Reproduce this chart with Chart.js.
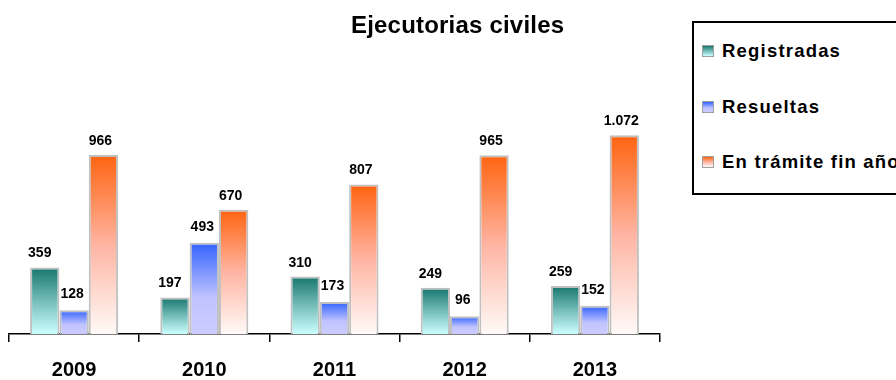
<!DOCTYPE html>
<html>
<head>
<meta charset="utf-8">
<script src="https://cdn.jsdelivr.net/npm/chart.js@4"></script>
<style>
  html, body { margin: 0; padding: 0; background: #fff; width: 896px; height: 380px; overflow: hidden; position: relative; }
  #c { position: absolute; left: 0; top: 0; }
  .title { position: absolute; left: 351px; top: 13px; font: bold 24px "Liberation Sans", Arial, sans-serif; line-height: 24px; letter-spacing: 0.2px; color: #000; white-space: nowrap; }
  .legend { position: absolute; left: 692px; top: 21px; width: 260px; height: 170px; border: 2px solid #000; background: #fff; }
  .li { position: absolute; left: 722px; font: bold 18.5px "Liberation Sans", Arial, sans-serif; line-height: 18px; letter-spacing: 1.2px; color: #000; white-space: nowrap; }
  .mk { position: absolute; left: 702px; width: 10px; height: 10px; border: 1px solid #a0a0a0; }
</style>
</head>
<body>
<canvas id="c" width="896" height="380"></canvas>
<div class="title" id="title"></div>
<div class="legend"></div>
<div id="leg"></div>
<script>
const chartTitle = "Ejecutorias civiles";
const categories = ["2009", "2010", "2011", "2012", "2013"];
const seriesNames = ["Registradas", "Resueltas", "En trámite fin año"];
const registradas = [359, 197, 310, 249, 259];
const resueltas = [128, 493, 173, 96, 152];
const enTramite = [966, 670, 807, 965, 1072];

const gradStops = [
  [[0, "#16766e"], [0.5, "#74bcb8"], [1, "#ccffff"]],
  [[0, "#3262ff"], [0.6, "#c0c3ff"], [1, "#ccccff"]],
  [[0, "#ff6410"], [0.5, "#ffb4a2"], [1, "#fffaf8"]]
];

document.getElementById('title').textContent = chartTitle;

// HTML legend
const legTop = [41.5, 97.5, 153];
const legEl = document.getElementById('leg');
seriesNames.forEach((n, i) => {
  const mk = document.createElement('div');
  mk.className = 'mk';
  mk.style.top = (legTop[i] + 3) + 'px';
  mk.style.background = 'linear-gradient(to bottom,' + gradStops[i].map(s => s[1] + ' ' + (s[0] * 100) + '%').join(',') + ')';
  legEl.appendChild(mk);
  const t = document.createElement('div');
  t.className = 'li';
  t.style.top = legTop[i] + 'px';
  t.textContent = n;
  legEl.appendChild(t);
});

function gradient(stops, fallback) {
  return (ctx) => {
    const chart = ctx.chart;
    if (ctx.type !== 'data' || !chart.scales || !chart.scales.y) return fallback;
    const ys = chart.scales.y;
    const yTop = ys.getPixelForValue(ctx.parsed.y);
    const yBase = ys.getPixelForValue(0);
    if (!isFinite(yTop) || !isFinite(yBase) || yBase - yTop < 1) return fallback;
    const g = chart.ctx.createLinearGradient(0, yTop, 0, yBase);
    stops.forEach(s => g.addColorStop(s[0], s[1]));
    return g;
  };
}

function fmt(v) {
  return String(v).replace(/\B(?=(\d{3})+(?!\d))/g, '.');
}

const labelOffsetX = [-5, -2, -3];
const labelGap = [10, 12, 10];

const valueLabels = {
  id: 'valueLabels',
  afterDatasetsDraw(chart) {
    const ctx = chart.ctx;
    ctx.save();
    ctx.font = 'bold 14px "Liberation Sans", Arial, sans-serif';
    ctx.fillStyle = '#000';
    ctx.textAlign = 'center';
    ctx.textBaseline = 'alphabetic';
    chart.data.datasets.forEach((ds, di) => {
      const meta = chart.getDatasetMeta(di);
      meta.data.forEach((bar, i) => {
        ctx.fillText(fmt(ds.data[i]), bar.x + labelOffsetX[di], bar.y - labelGap[di]);
      });
    });
    ctx.restore();
  }
};

new Chart(document.getElementById('c'), {
  type: 'bar',
  data: {
    labels: categories,
    datasets: [
      { label: seriesNames[0], data: registradas, backgroundColor: gradient(gradStops[0], '#5fa9a5') },
      { label: seriesNames[1], data: resueltas, backgroundColor: gradient(gradStops[1], '#8899ff') },
      { label: seriesNames[2], data: enTramite, backgroundColor: gradient(gradStops[2], '#ffa080') }
    ]
  },
  options: {
    responsive: false,
    animation: false,
    layout: { padding: { top: 56, left: 9, right: 236, bottom: 0 } },
    datasets: {
      bar: {
        categoryPercentage: 0.676,
        barPercentage: 1.0,
        borderColor: '#c0c0c0',
        borderWidth: 2,
        borderSkipped: 'start'
      }
    },
    plugins: {
      legend: { display: false },
      title: { display: false },
      tooltip: { enabled: false }
    },
    scales: {
      x: {
        offset: true,
        grid: { display: true, offset: true, drawOnChartArea: false, drawTicks: true, tickLength: 8, color: '#000', lineWidth: 1.5 },
        border: { display: true, color: '#000', width: 1.5 },
        ticks: { color: '#000', padding: 16, font: { family: '"Liberation Sans", Arial, sans-serif', size: 20, weight: 'bold' } },
        afterFit(scale) { scale.height = 46; }
      },
      y: {
        display: false,
        min: 0,
        max: 1500
      }
    }
  },
  plugins: [valueLabels]
});
</script>
</body>
</html>
